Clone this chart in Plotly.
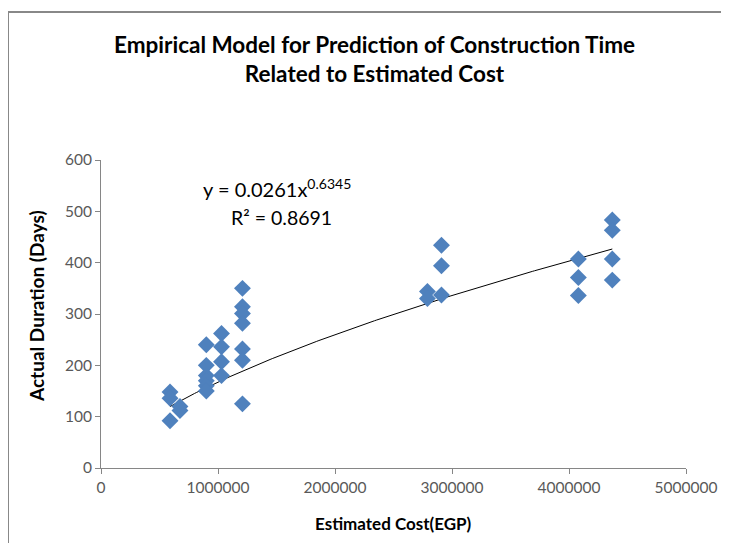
import numpy as np
import plotly.graph_objects as go

cost = [590000, 590000, 590000, 675000, 675000,
        900000, 900000, 900000, 900000, 900000, 900000,
        1030000, 1030000, 1030000, 1030000,
        1209000, 1209000, 1209000, 1209000, 1209000, 1209000, 1209000,
        2790000, 2790000, 2910000, 2910000, 2910000,
        4080000, 4080000, 4080000,
        4370000, 4370000, 4370000, 4370000]
duration = [148, 136, 92, 120, 112,
            240, 200, 180, 170, 160, 150,
            262, 236, 207, 180,
            350, 314, 301, 282, 232, 210, 125,
            344, 330, 434, 394, 337,
            407, 371, 336,
            483, 463, 407, 366]

coef_a = 0.0261
coef_b = 0.6345
r2 = 0.8691

x_fit = np.linspace(min(cost), max(cost), 200)
y_fit = coef_a * x_fit ** coef_b

# the page body adds an 8px offset; layout given in screen pixels minus 8
OFF = 8
W, H = 729 - OFF, 543 - OFF
L, T = 101 - OFF, 160 - OFF
R = W - (686 - OFF)
B = H - (468 - OFF)
pw, ph = W - L - R, H - T - B

def px(x):
    return (x - OFF - L) / pw

def py(y):
    return (H - B - (y - OFF)) / ph

font_main = "Lato, sans-serif"

fig = go.Figure()
fig.add_trace(go.Scatter(x=x_fit, y=y_fit, mode="lines",
                         line=dict(color="black", width=1), showlegend=False,
                         hoverinfo="skip"))
fig.add_trace(go.Scatter(x=cost, y=duration, mode="markers",
                         marker=dict(symbol="diamond", size=13, color="#4F81BD",
                                     line=dict(width=0)),
                         showlegend=False))

fig.update_layout(
    width=W, height=H,
    margin=dict(l=L, r=R, t=T, b=B, autoexpand=False),
    paper_bgcolor="white", plot_bgcolor="white",
    font=dict(family=font_main, color="#595959", size=15.5),
    title=dict(text="<b>Empirical Model for Prediction of Construction Time<br>Related to Estimated Cost</b>",
               x=(374.5 - OFF) / W, xanchor="center", y=1 - (53 - OFF) / H, yanchor="middle",
               font=dict(family=font_main, size=22.5, color="black")),
    xaxis=dict(range=[0, 5000000], tickvals=[0, 1000000, 2000000, 3000000, 4000000, 5000000],
               ticktext=["0", "1000000", "2000000", "3000000", "4000000", "5000000"],
               showgrid=False, zeroline=False, showline=True, linecolor="#868686", linewidth=1,
               ticks="outside", ticklen=5, tickcolor="#868686", automargin=False),
    yaxis=dict(range=[0, 600], tickvals=[0, 100, 200, 300, 400, 500, 600],
               showgrid=False, zeroline=False, showline=True, linecolor="#868686", linewidth=1,
               ticks="outside", ticklen=5, tickcolor="#868686", automargin=False),
    annotations=[
        dict(text="<b>Estimated Cost(EGP)</b>", xref="paper", yref="paper",
             x=px(393), y=py(523), xanchor="center", yanchor="middle", showarrow=False,
             font=dict(family=font_main, size=17, color="black")),
        dict(text="<b>Actual Duration (Days)</b>", xref="paper", yref="paper", textangle=-90,
             x=px(36), y=py(306), xanchor="center", yanchor="middle", showarrow=False,
             font=dict(family=font_main, size=19, color="black")),
        dict(text=f"y = {coef_a}x<sup>{coef_b}</sup>", xref="paper", yref="paper",
             x=px(277), y=py(188), xanchor="center", yanchor="middle", showarrow=False,
             font=dict(family=font_main, size=20, color="black")),
        dict(text=f"R² = {r2}", xref="paper", yref="paper",
             x=px(281), y=py(217), xanchor="center", yanchor="middle", showarrow=False,
             font=dict(family=font_main, size=19.5, color="black")),
    ],
    shapes=[
        dict(type="line", xref="paper", yref="paper", x0=px(8), x1=px(740), y0=py(12), y1=py(12),
             line=dict(color="#888888", width=2)),
        dict(type="line", xref="paper", yref="paper", x0=px(8), x1=px(8), y0=py(12), y1=py(560),
             line=dict(color="#888888", width=2)),
    ],
)

fig.write_html("out.html")
